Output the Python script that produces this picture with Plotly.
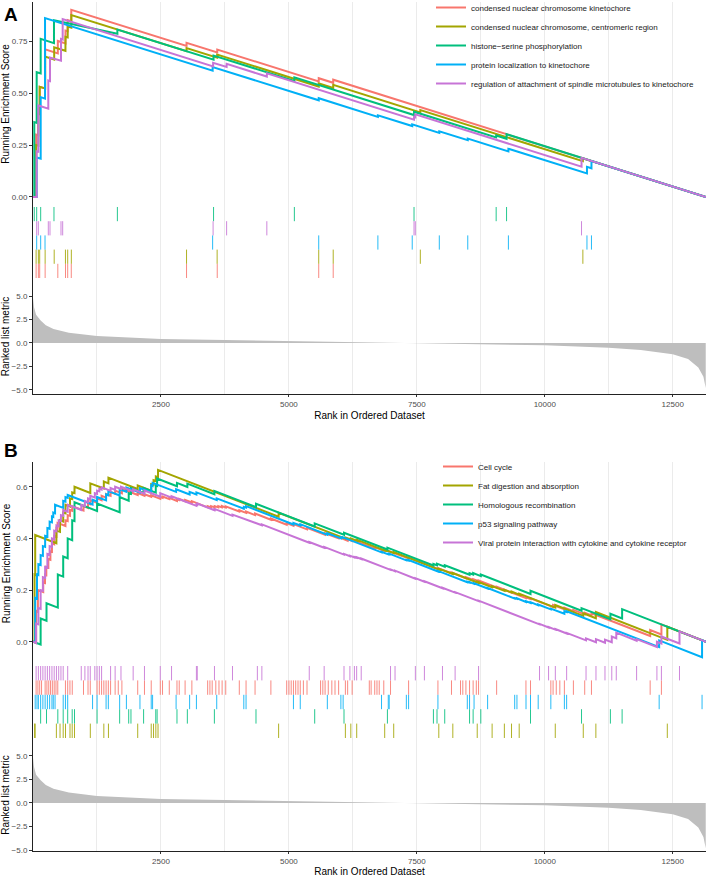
"""GSEA plots (two panels) - running enrichment score, hit rug and ranked list metric"""

import plotly.graph_objects as go

N_GENES = 13150
X_TICKS = [2500, 5000, 7500, 10000, 12500]
X_MINOR = [1250, 3750, 6250, 8750, 11250]

# ranked list metric, shared by both analyses
metric_rank = [1, 20, 60, 150, 250, 400, 700, 1250, 2500, 3750, 5000, 6250, 7000,
               7500, 8750, 10000, 11250, 11875, 12500, 12800, 13000, 13100, 13145]
metric_value = [4.8, 3.8, 3.0, 2.4, 1.9, 1.5, 1.1, 0.75, 0.42, 0.3, 0.18, 0.08, 0.02,
                -0.03, -0.12, -0.25, -0.5, -0.75, -1.2, -1.7, -2.6, -3.6, -4.8]

# ---------------- panel A ----------------
a_names = ["condensed nuclear chromosome kinetochore",
           "condensed nuclear chromosome, centromeric region",
           "histone\u2212serine phosphorylation",
           "protein localization to kinetochore",
           "regulation of attachment of spindle microtubules to kinetochore"]

a_es_kinetochore = [(0, 0), (61, 0), (61, 0.30), (105, 0.297), (105, 0.42), (131, 0.418), (131, 0.53),
                    (237, 0.522), (237, 0.71), (485, 0.69), (485, 0.75), (635, 0.738), (635, 0.80),
                    (678, 0.797), (678, 0.85), (748, 0.845), (748, 0.90), (3000, 0.726), (3000, 0.741),
                    (3600, 0.695), (3600, 0.709), (5583, 0.556), (5583, 0.571), (5866, 0.549),
                    (5866, 0.564), (13150, 0)]
a_es_centromeric = [(0, 0), (61, 0), (61, 0.25), (105, 0.247), (105, 0.40), (131, 0.398), (131, 0.53),
                    (237, 0.522), (237, 0.675), (414, 0.661), (414, 0.72), (634, 0.703), (634, 0.77),
                    (678, 0.767), (678, 0.82), (749, 0.814), (749, 0.875), (3000, 0.701), (3000, 0.716),
                    (3598, 0.67), (3598, 0.685), (5583, 0.531), (5583, 0.546), (5866, 0.524),
                    (5866, 0.539), (7568, 0.407), (7568, 0.418), (10744, 0.172), (10744, 0.186),
                    (13150, 0)]
a_es_histone = [(0, 0), (25, 0), (25, 0.36), (72, 0.356), (72, 0.60), (150, 0.594), (150, 0.76),
                (410, 0.74), (410, 0.85), (1649, 0.785), (1649, 0.805), (3528, 0.66), (3528, 0.68),
                (5107, 0.558), (5107, 0.575), (7445, 0.394), (7445, 0.41), (9050, 0.286), (9050, 0.296),
                (9253, 0.28), (9253, 0.302), (13150, 0)]
a_es_protein = [(0, 0), (72, 0), (72, 0.19), (150, 0.184), (150, 0.48), (235, 0.473), (235, 0.86),
                (3510, 0.607), (3510, 0.625), (5583, 0.465), (5583, 0.475), (6739, 0.385), (6739, 0.393),
                (7410, 0.341), (7410, 0.349), (7939, 0.308), (7939, 0.316), (8495, 0.273), (8495, 0.281),
                (9289, 0.219), (9289, 0.232), (10824, 0.113), (10824, 0.145), (10912, 0.138),
                (10912, 0.173), (13150, 0)]
a_es_spindle = [(0, 0), (72, 0), (72, 0.22), (104, 0.218), (104, 0.44), (299, 0.425), (299, 0.56),
                (332, 0.557), (332, 0.67), (547, 0.655), (547, 0.76), (580, 0.757), (580, 0.855),
                (3519, 0.628), (3519, 0.645), (3783, 0.625), (3783, 0.64), (4569, 0.579), (4569, 0.595),
                (7445, 0.372), (7445, 0.385), (7470, 0.383), (7470, 0.397), (10718, 0.146),
                (10718, 0.188), (13150, 0)]

a_hits_kinetochore = [61, 105, 131, 237, 485, 635, 678, 748, 3000, 3600, 5583, 5866]
a_hits_centromeric = [61, 105, 131, 237, 414, 634, 678, 749, 3000, 3598, 5583, 5866, 7568, 10744]
a_hits_histone = [25, 72, 150, 410, 1649, 3528, 5107, 7445, 9050, 9253]
a_hits_protein = [72, 150, 235, 3510, 5583, 6739, 7410, 7939, 8495, 9289, 10824, 10912]
a_hits_spindle = [72, 104, 299, 332, 547, 580, 3519, 3783, 4569, 7445, 7470, 10718]

# ---------------- panel B ----------------
b_names = ["Cell cycle",
           "Fat digestion and absorption",
           "Homologous recombination",
           "p53 signaling pathway",
           "Viral protein interaction with cytokine and cytokine receptor"]

b_es_cellcycle = [(0, 0), (61, -0.005), (61, 0.12), (96, 0.117), (96, 0.2), (200, 0.192), (200, 0.23),
                  (235, 0.227), (235, 0.26), (260, 0.258), (260, 0.29), (300, 0.287), (300, 0.32),
                  (340, 0.317), (340, 0.35), (370, 0.348), (370, 0.38), (414, 0.377), (414, 0.41),
                  (458, 0.407), (458, 0.44), (480, 0.438), (480, 0.46), (634, 0.448), (634, 0.47),
                  (678, 0.467), (678, 0.49), (723, 0.487), (723, 0.51), (767, 0.507), (767, 0.525),
                  (987, 0.508), (987, 0.525), (1075, 0.518), (1075, 0.535), (1119, 0.532), (1119, 0.548),
                  (1252, 0.538), (1252, 0.555), (1340, 0.548), (1340, 0.565), (1428, 0.558), (1428, 0.572),
                  (1516, 0.565), (1516, 0.58), (1605, 0.573), (1605, 0.585), (1737, 0.575), (1737, 0.592),
                  (2046, 0.568), (2046, 0.575), (2178, 0.565), (2178, 0.571), (2310, 0.561), (2310, 0.567),
                  (2487, 0.553), (2487, 0.56), (2531, 0.557), (2531, 0.562), (2663, 0.552), (2663, 0.557),
                  (2813, 0.545), (2813, 0.551), (2857, 0.548), (2857, 0.553), (2972, 0.544), (2972, 0.549),
                  (3104, 0.539), (3104, 0.544), (3413, 0.52), (3413, 0.525), (3480, 0.52), (3480, 0.525),
                  (3550, 0.52), (3550, 0.525), (3620, 0.52), (3620, 0.525), (3690, 0.52), (3690, 0.525),
                  (3766, 0.519), (3766, 0.524), (4031, 0.504), (4031, 0.509), (4163, 0.499), (4163, 0.504),
                  (4339, 0.49), (4339, 0.496), (4648, 0.472), (4648, 0.477), (4957, 0.453), (4957, 0.459),
                  (5089, 0.449), (5089, 0.455), (5354, 0.435), (5354, 0.441), (5707, 0.414), (5707, 0.42),
                  (5972, 0.4), (5972, 0.405), (6148, 0.391), (6148, 0.397), (6236, 0.39), (6236, 0.395),
                  (6677, 0.361), (6677, 0.366), (6854, 0.352), (6854, 0.357), (6986, 0.347), (6986, 0.35),
                  (7339, 0.323), (7339, 0.326), (7912, 0.282), (7912, 0.285), (8177, 0.265), (8177, 0.268),
                  (8460, 0.246), (8460, 0.25), (8601, 0.239), (8601, 0.242), (8706, 0.234), (8706, 0.237),
                  (9059, 0.21), (9059, 0.213), (9633, 0.169), (9633, 0.172), (9721, 0.165), (9721, 0.168),
                  (10162, 0.134), (10162, 0.142), (10383, 0.125), (10383, 0.132), (10559, 0.118),
                  (10559, 0.123), (10780, 0.106), (10780, 0.112), (10912, 0.102), (10912, 0.11),
                  (12059, 0.022), (12059, 0.045), (12279, 0.028), (12279, 0.067), (13150, 0)]
b_es_fat = [(0, 0), (30, 0), (30, 0.26), (43, 0.259), (43, 0.413), (457, 0.381), (457, 0.43), (528, 0.425),
            (528, 0.47), (590, 0.465), (590, 0.50), (635, 0.497), (635, 0.53), (723, 0.523), (723, 0.555),
            (766, 0.552), (766, 0.578), (811, 0.575), (811, 0.60), (1120, 0.576), (1120, 0.613),
            (1384, 0.593), (1384, 0.62), (1474, 0.613), (1474, 0.635), (2046, 0.591), (2046, 0.605),
            (2310, 0.585), (2310, 0.61), (2355, 0.607), (2355, 0.625), (2400, 0.622), (2400, 0.64),
            (2443, 0.637), (2443, 0.665), (4799, 0.484), (4799, 0.499), (6104, 0.399), (6104, 0.404),
            (6210, 0.396), (6210, 0.4), (6325, 0.391), (6325, 0.395), (6872, 0.353), (6872, 0.357),
            (7048, 0.343), (7048, 0.347), (7929, 0.279), (7929, 0.283), (8203, 0.262), (8203, 0.266),
            (8680, 0.229), (8680, 0.233), (8971, 0.211), (8971, 0.215), (9210, 0.197), (9210, 0.201),
            (9350, 0.19), (9350, 0.194), (9500, 0.182), (9500, 0.186), (10205, 0.132), (10205, 0.142),
            (10752, 0.1), (10752, 0.11), (10998, 0.091), (10998, 0.115), (12394, 0.007), (12394, 0.058),
            (13150, 0)]
b_es_homologous = [(0, 0), (149, -0.011), (149, 0.09), (264, 0.081), (264, 0.149), (485, 0.132), (485, 0.26),
                   (590, 0.252), (590, 0.33), (678, 0.323), (678, 0.40), (766, 0.393), (766, 0.47),
                   (811, 0.467), (811, 0.54), (1252, 0.506), (1252, 0.535), (1693, 0.501), (1693, 0.56),
                   (1870, 0.546), (1870, 0.575), (1914, 0.572), (1914, 0.595), (2161, 0.576), (2161, 0.595),
                   (2399, 0.577), (2399, 0.605), (2425, 0.603), (2425, 0.632), (2813, 0.602), (2813, 0.615),
                   (3016, 0.599), (3016, 0.612), (3544, 0.571), (3544, 0.584), (4357, 0.521), (4357, 0.534),
                   (5504, 0.446), (5504, 0.458), (6077, 0.414), (6077, 0.422), (6925, 0.357), (6925, 0.364),
                   (7824, 0.295), (7824, 0.301), (7894, 0.296), (7894, 0.302), (8045, 0.29), (8045, 0.296),
                   (8530, 0.259), (8530, 0.265), (8600, 0.26), (8600, 0.266), (8750, 0.254), (8750, 0.26),
                   (9721, 0.185), (9721, 0.197), (10718, 0.12), (10718, 0.13), (11282, 0.087),
                   (11282, 0.108), (11511, 0.09), (11511, 0.126), (13150, 0)]
b_es_p53 = [(0, 0), (43, 0), (43, 0.17), (78, 0.167), (78, 0.26), (105, 0.258), (105, 0.30), (149, 0.297),
            (149, 0.335), (193, 0.332), (193, 0.37), (237, 0.367), (237, 0.41), (281, 0.407), (281, 0.44),
            (325, 0.437), (325, 0.465), (370, 0.462), (370, 0.485), (396, 0.483), (396, 0.50), (431, 0.497),
            (431, 0.53), (590, 0.518), (590, 0.545), (634, 0.542), (634, 0.56), (678, 0.557), (678, 0.568),
            (1164, 0.531), (1164, 0.55), (1252, 0.543), (1252, 0.56), (1428, 0.547), (1428, 0.57),
            (1472, 0.567), (1472, 0.583), (1693, 0.566), (1693, 0.59), (1825, 0.58), (1825, 0.597),
            (2090, 0.577), (2090, 0.595), (2310, 0.578), (2310, 0.605), (2337, 0.603), (2337, 0.615),
            (2796, 0.58), (2796, 0.59), (3060, 0.57), (3060, 0.58), (3193, 0.57), (3193, 0.578),
            (3590, 0.548), (3590, 0.555), (4119, 0.515), (4119, 0.522), (4163, 0.519), (4163, 0.525),
            (5089, 0.454), (5089, 0.46), (5222, 0.45), (5222, 0.455), (5751, 0.414), (5751, 0.42),
            (6016, 0.4), (6016, 0.405), (6060, 0.402), (6060, 0.404), (6810, 0.346), (6810, 0.348),
            (6942, 0.338), (6942, 0.34), (6960, 0.339), (6960, 0.341), (7295, 0.315), (7295, 0.317),
            (7339, 0.314), (7339, 0.316), (7912, 0.272), (7912, 0.274), (8486, 0.23), (8486, 0.232),
            (8530, 0.229), (8530, 0.231), (8618, 0.224), (8618, 0.226), (8883, 0.206), (8883, 0.208),
            (9412, 0.167), (9412, 0.169), (9456, 0.166), (9456, 0.168), (9633, 0.154), (9633, 0.157),
            (9721, 0.15), (9721, 0.153), (9871, 0.141), (9871, 0.144), (10118, 0.125), (10118, 0.128),
            (10383, 0.108), (10383, 0.118), (10427, 0.115), (10427, 0.118), (12235, -0.021), (12235, 0.005),
            (13073, -0.06), (13073, 0.006), (13150, 0)]
b_es_viral = [(0, 0), (61, -0.005), (61, 0.07), (105, 0.067), (105, 0.13), (149, 0.127), (149, 0.2),
              (193, 0.197), (193, 0.25), (237, 0.247), (237, 0.29), (281, 0.287), (281, 0.34), (325, 0.337),
              (325, 0.37), (370, 0.367), (370, 0.40), (414, 0.397), (414, 0.43), (458, 0.427), (458, 0.45),
              (502, 0.447), (502, 0.47), (546, 0.467), (546, 0.49), (590, 0.487), (590, 0.51), (678, 0.503),
              (678, 0.53), (943, 0.51), (943, 0.53), (1014, 0.525), (1014, 0.545), (1075, 0.54),
              (1075, 0.555), (1119, 0.552), (1119, 0.565), (1208, 0.558), (1208, 0.575), (1252, 0.572),
              (1252, 0.585), (1296, 0.582), (1296, 0.592), (1340, 0.589), (1340, 0.598), (1516, 0.584),
              (1516, 0.595), (1605, 0.588), (1605, 0.6), (1719, 0.591), (1719, 0.6), (1957, 0.582),
              (1957, 0.59), (2178, 0.573), (2178, 0.585), (2487, 0.561), (2487, 0.575), (2707, 0.558),
              (2707, 0.563), (3193, 0.526), (3193, 0.531), (3210, 0.53), (3210, 0.535), (3546, 0.509),
              (3546, 0.514), (3898, 0.487), (3898, 0.492), (4384, 0.455), (4384, 0.458), (4472, 0.451),
              (4472, 0.454), (5398, 0.383), (5398, 0.386), (5689, 0.364), (5689, 0.367), (6077, 0.337),
              (6077, 0.34), (6192, 0.331), (6192, 0.333), (6280, 0.326), (6280, 0.328), (6324, 0.325),
              (6324, 0.327), (6413, 0.32), (6413, 0.322), (6986, 0.278), (6986, 0.28), (7074, 0.273),
              (7074, 0.275), (7471, 0.244), (7471, 0.246), (7648, 0.232), (7648, 0.234), (8001, 0.207),
              (8001, 0.209), (8248, 0.19), (8248, 0.192), (8706, 0.157), (8706, 0.159), (9897, 0.067),
              (9897, 0.069), (10074, 0.055), (10074, 0.057), (10206, 0.047), (10206, 0.049),
              (10427, 0.032), (10427, 0.034), (10806, 0.005), (10806, 0.013), (11000, -0.002),
              (11000, 0.01), (11176, -0.004), (11176, 0.008), (11309, -0.002), (11309, 0.02),
              (11397, 0.013), (11397, 0.035), (11794, 0.004), (11794, 0.01), (12191, -0.021),
              (12191, 0.0), (12279, -0.007), (12279, 0.02), (12632, -0.007), (12632, 0.04), (13150, 0)]

b_hits_cellcycle = [61, 96, 131, 167, 237, 272, 308, 343, 378, 414, 449, 484, 634, 678, 722, 767, 987,
                    1075, 1119, 1252, 1296, 1340, 1384, 1428, 1472, 1516, 1605, 1666, 1737, 2046, 2178,
                    2310, 2487, 2531, 2663, 2813, 2857, 2972, 3104, 3413, 3457, 3501, 3572, 3634, 3695,
                    3766, 4031, 4163, 4339, 4648, 4957, 5001, 5045, 5089, 5133, 5178, 5222, 5283, 5354,
                    5619, 5663, 5707, 5769, 5839, 5901, 5972, 6104, 6148, 6236, 6571, 6607, 6677, 6721,
                    6765, 6854, 6986, 7339, 7912, 8177, 8353, 8398, 8459, 8530, 8600, 8662, 8706, 9059,
                    9632, 9721, 10118, 10162, 10224, 10294, 10383, 10559, 10780, 10912, 12059, 12279]
b_hits_fat = [30, 43, 457, 528, 590, 635, 723, 766, 811, 1120, 1384, 1474, 2046, 2310, 2355, 2400, 2443,
              4799, 6104, 6210, 6325, 6872, 7048, 7929, 8203, 8680, 8971, 9210, 9350, 9500, 10205,
              10752, 10998, 12394]
b_hits_homologous = [149, 264, 485, 590, 678, 766, 811, 1252, 1693, 1870, 1914, 2161, 2399, 2425, 2813,
                     3016, 3544, 4357, 5504, 6077, 6925, 7824, 7894, 8045, 8530, 8600, 8750, 9721,
                     10718, 11282, 11511]
b_hits_p53 = [43, 78, 105, 149, 193, 237, 281, 325, 370, 396, 431, 590, 634, 678, 1164, 1252, 1428,
              1472, 1693, 1825, 2090, 2310, 2337, 2796, 3060, 3193, 3590, 4119, 4163, 5089, 5222, 5751,
              6016, 6060, 6810, 6942, 6960, 7295, 7339, 7912, 8486, 8530, 8618, 8883, 9412, 9456, 9633,
              9721, 9871, 10118, 10383, 10427, 12235, 13073]
b_hits_viral = [61, 105, 149, 193, 237, 281, 325, 370, 414, 458, 502, 546, 590, 678, 943, 1014, 1075,
                1119, 1208, 1252, 1296, 1340, 1516, 1605, 1719, 1957, 2178, 2487, 2707, 3193, 3210, 3546,
                3898, 4384, 4472, 5398, 5689, 6077, 6192, 6280, 6324, 6413, 6986, 7074, 7471, 7648, 8001,
                8248, 8706, 9897, 10074, 10206, 10427, 10806, 11000, 11176, 11309, 11397, 11794, 12191,
                12279, 12632]

# ---------------- styling ----------------
COLORS = ["#F8766D", "#A3A500", "#00BF7D", "#00B0F6", "#C774D6"]
FONT = "Liberation Sans, Arial, sans-serif"
W, H = 706, 877
X0 = 33 / W


def py(px):
    """pixel row (from top) -> paper fraction"""
    return 1 - px / H


def rug_xy(hits, row):
    xs, ys = [], []
    for h in hits:
        xs += [h, h, None]
        ys += [row, row + 1, None]
    return xs, ys


fig = go.Figure()


def add_panel(first_axis, names, curves, hits, rows, legend_name):
    es_ax, rug_ax, met_ax = first_axis, first_axis + 1, first_axis + 2
    sfx = lambda n: "" if n == 1 else str(n)
    for name, curve, col in zip(names, curves, COLORS):
        xs, ys = zip(*curve)
        fig.add_trace(go.Scatter(x=xs, y=ys, mode="lines", name=name, legend=legend_name,
                                 line=dict(color=col, width=2),
                                 xaxis="x" + sfx(es_ax), yaxis="y" + sfx(es_ax)))
    for h, row, col in zip(hits, rows, COLORS):
        xs, ys = rug_xy(h, row)
        fig.add_trace(go.Scatter(x=xs, y=ys, mode="lines", showlegend=False,
                                 line=dict(color=col, width=1), opacity=0.85,
                                 xaxis="x" + sfx(rug_ax), yaxis="y" + sfx(rug_ax)))
    fig.add_trace(go.Scatter(x=metric_rank, y=metric_value, mode="lines", showlegend=False,
                             fill="tozeroy", fillcolor="#BEBEBE", line=dict(width=0, color="#BEBEBE"),
                             xaxis="x" + sfx(met_ax), yaxis="y" + sfx(met_ax)))


add_panel(1, a_names,
          [a_es_kinetochore, a_es_centromeric, a_es_histone, a_es_protein, a_es_spindle],
          [a_hits_kinetochore, a_hits_centromeric, a_hits_histone, a_hits_protein, a_hits_spindle],
          [0, 1, 4, 2, 3], "legend")
add_panel(4, b_names,
          [b_es_cellcycle, b_es_fat, b_es_homologous, b_es_p53, b_es_viral],
          [b_hits_cellcycle, b_hits_fat, b_hits_homologous, b_hits_p53, b_hits_viral],
          [3, 0, 1, 2, 4], "legend2")

tick_font = dict(family=FONT, size=8, color="#4D4D4D")
title_font = dict(family=FONT, size=10, color="black")


def xaxis(anchor, bottom, standoff=4):
    d = dict(domain=[X0, 1], range=[0, N_GENES], anchor=anchor, tickvals=X_TICKS, tickformat="d",
             showgrid=True, gridcolor="#EBEBEB", gridwidth=1, zeroline=False, automargin=False,
             minor=dict(tickvals=X_MINOR, showgrid=True, gridcolor="#EBEBEB", gridwidth=1),
             tickfont=tick_font, showticklabels=bottom, ticks="outside" if bottom else "",
             ticklen=2, tickcolor="#333333", showline=bottom, linecolor="#222222", linewidth=1)
    if bottom:
        d["title"] = dict(text="Rank in Ordered Dataset", font=title_font, standoff=standoff)
    return d


def yaxis(anchor, top_px, bot_px, rng, tickvals=None, fmt=None, title=None):
    d = dict(domain=[py(bot_px), py(top_px)], range=rng, anchor=anchor, showgrid=False,
             zeroline=False, showline=True, linecolor="#222222", linewidth=1, automargin=False)
    if tickvals is None:
        d.update(showticklabels=False, ticks="")
    else:
        d.update(tickvals=tickvals, tickformat=fmt, ticks="outside", ticklen=3,
                 tickcolor="#333333", tickfont=tick_font)
    if title:
        d["title"] = dict(text=title, font=title_font, standoff=3)
    return d


layout = dict(
    width=W, height=H, margin=dict(l=0, r=0, t=0, b=0, autoexpand=False),
    paper_bgcolor="white", plot_bgcolor="white", font=dict(family=FONT),
    # panel A
    xaxis=xaxis("y", False), xaxis2=xaxis("y2", False), xaxis3=xaxis("y3", True),
    yaxis=yaxis("x", 2, 206, [-0.0433, 0.9375], [0, 0.25, 0.5, 0.75], ".2f", "Running Enrichment Score"),
    yaxis2=yaxis("x2", 206, 279, [-0.07, 5.07]),
    yaxis3=yaxis("x3", 279, 394, [-5.43, 6.81], [-5, -2.5, 0, 2.5, 5], ".1f", "Ranked list metric"),
    # panel B
    xaxis4=xaxis("y4", False), xaxis5=xaxis("y5", False), xaxis6=xaxis("y6", True, 7),
    yaxis4=yaxis("x4", 462, 665, [-0.0902, 0.6957], [0, 0.2, 0.4, 0.6], ".1f", "Running Enrichment Score"),
    yaxis5=yaxis("x5", 665, 739, [-0.07, 5.07]),
    yaxis6=yaxis("x6", 739, 851, [-5.08, 6.77], [-5, -2.5, 0, 2.5, 5], ".1f", "Ranked list metric"),
    legend=dict(x=431 / W, y=py(-7), xanchor="left", yanchor="top", bgcolor="rgba(0,0,0,0)",
                font=dict(family=FONT, size=8, color="#1A1A1A"), tracegroupgap=0, itemwidth=30),
    legend2=dict(x=438 / W, y=py(452), xanchor="left", yanchor="top", bgcolor="rgba(0,0,0,0)",
                 font=dict(family=FONT, size=8, color="#1A1A1A"), tracegroupgap=0, itemwidth=30),
    annotations=[
        dict(text="<b>A</b>", x=2 / W, y=py(14), xref="paper", yref="paper", xanchor="left",
             yanchor="middle", showarrow=False, font=dict(family=FONT, size=19, color="black")),
        dict(text="<b>B</b>", x=2 / W, y=py(450), xref="paper", yref="paper", xanchor="left",
             yanchor="middle", showarrow=False, font=dict(family=FONT, size=19, color="black")),
    ],
    hovermode=False,
)
fig.update_layout(**layout)

# drop the default page margin so the figure sits at the window's top-left corner
fig.write_html("out.html", config={"displayModeBar": False},
               post_script="document.body.style.margin='0px';document.body.style.overflow='hidden';")
